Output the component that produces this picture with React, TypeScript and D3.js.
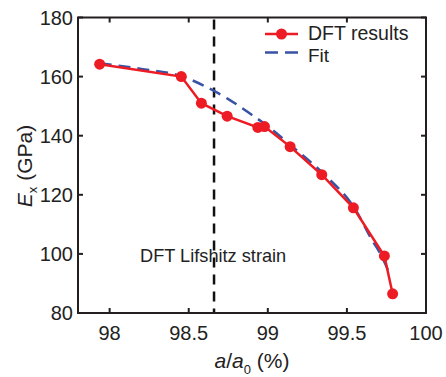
import React from "react";
import * as d3 from "d3";

const dftA = [97.937, 98.453, 98.58, 98.743, 98.937, 98.979, 99.141, 99.341, 99.541, 99.737, 99.789];
const dftE = [164.2, 160.0, 151.0, 146.6, 142.8, 143.1, 136.3, 126.8, 115.6, 99.3, 86.5];

const fitA = [97.937, 98.2, 98.453, 98.6, 98.75, 98.9, 99.0, 99.15, 99.35, 99.55, 99.66, 99.72, 99.775];
const fitE = [164.5, 162.6, 160.2, 156.8, 152.4, 147.0, 143.2, 136.5, 127.2, 115.3, 104.6, 99.2, 92.6];

const lifshitzA = 98.66;

const xTicks = [98, 98.5, 99, 99.5, 100];
const yTicks = [80, 100, 120, 140, 160, 180];

const W = 446, H = 377;
const L = 78, R = 426, T = 17.5, B = 313;
const font = "'Liberation Sans', Arial, sans-serif";
const axisColor = "#231f20";
const red = "#ed1c24";
const blue = "#3953a4";

export default function App() {
  const x = d3.scaleLinear().domain([97.8, 100]).range([L, R]);
  const y = d3.scaleLinear().domain([80, 180]).range([B, T]);
  const dft = dftA.map((a, i) => [a, dftE[i]] as [number, number]);
  const fit = fitA.map((a, i) => [a, fitE[i]] as [number, number]);
  const lineStraight = d3.line<[number, number]>().x(d => x(d[0])).y(d => y(d[1]));
  const lineCurve = d3.line<[number, number]>().x(d => x(d[0])).y(d => y(d[1])).curve(d3.curveMonotoneX);
  const tl = 5;

  return (
    <svg width={W} height={H} style={{ position: "absolute", left: 0, top: 0, background: "#fff" }} fontFamily={font}>
      <rect x={0} y={0} width={W} height={H} fill="#fff" />
      {/* vertical Lifshitz line */}
      <line x1={x(lifshitzA)} x2={x(lifshitzA)} y1={T + 2} y2={B} stroke="#111" strokeWidth={2.5} strokeDasharray="10,7" />
      {/* text */}
      <text x={140} y={262} fontSize={18.2} fill="#222">DFT Lifshitz strain</text>
      {/* fit */}
      <path d={lineCurve(fit) || ""} fill="none" stroke={blue} strokeWidth={2.5} strokeDasharray="12,7" />
      {/* dft */}
      <path d={lineStraight(dft) || ""} fill="none" stroke={red} strokeWidth={2.5} />
      {dft.map((d, i) => (
        <circle key={i} cx={x(d[0])} cy={y(d[1])} r={5.5} fill={red} />
      ))}
      {/* frame */}
      <rect x={L} y={T} width={R - L} height={B - T} fill="none" stroke={axisColor} strokeWidth={2} />
      {xTicks.map(t => (
        <g key={"x" + t}>
          <line x1={x(t)} x2={x(t)} y1={B} y2={B - tl} stroke={axisColor} strokeWidth={2} />
          <line x1={x(t)} x2={x(t)} y1={T} y2={T + tl} stroke={axisColor} strokeWidth={2} />
          <text x={x(t)} y={B + 27} fontSize={20} textAnchor="middle" fill="#222">{String(t)}</text>
        </g>
      ))}
      {yTicks.map(t => (
        <g key={"y" + t}>
          <line x1={L} x2={L + tl} y1={y(t)} y2={y(t)} stroke={axisColor} strokeWidth={2} />
          <line x1={R} x2={R - tl} y1={y(t)} y2={y(t)} stroke={axisColor} strokeWidth={2} />
          <text x={73} y={y(t) + 7.3} fontSize={20} textAnchor="end" fill="#222">{String(t)}</text>
        </g>
      ))}
      {/* x label */}
      <text x={252} y={368} fontSize={21} textAnchor="middle" fill="#222">
        <tspan fontStyle="italic">a</tspan>
        <tspan>/</tspan>
        <tspan fontStyle="italic">a</tspan>
        <tspan fontSize={13} dy={6}>0</tspan>
        <tspan dy={-6}> (%)</tspan>
      </text>
      {/* y label */}
      <text transform={`translate(32,${166}) rotate(-90)`} fontSize={21} textAnchor="middle" fill="#222">
        <tspan fontStyle="italic">E</tspan>
        <tspan fontSize={13} dy={5}>x</tspan>
        <tspan dy={-5}> (GPa)</tspan>
      </text>
      {/* legend */}
      <line x1={265} x2={298} y1={34} y2={34} stroke={red} strokeWidth={2.5} />
      <circle cx={281.5} cy={34} r={5.5} fill={red} />
      <text x={308} y={40.3} fontSize={19.5} fill="#222">DFT results</text>
      <line x1={265} x2={298} y1={52.5} y2={52.5} stroke={blue} strokeWidth={2.5} strokeDasharray="13,7" />
      <text x={308} y={62} fontSize={19} fill="#222">Fit</text>
    </svg>
  );
}
